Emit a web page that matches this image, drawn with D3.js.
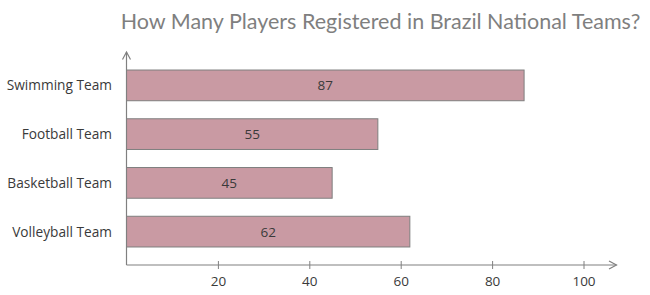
<!DOCTYPE html>
<html>
<head>
<meta charset="utf-8">
<script src="https://cdn.jsdelivr.net/npm/d3@7"></script>
<style>
  body { margin: 0; background: #fff; }
  svg { display: block; font-family: "Open Sans", sans-serif; }
</style>
</head>
<body>
<div id="chart"></div>
<script>
// data
const teams = ["Swimming Team", "Football Team", "Basketball Team", "Volleyball Team"];
const players = [87, 55, 45, 62];
const tickValues = [20, 40, 60, 80, 100];
const title = "How Many Players Registered in Brazil National Teams?";

const width = 650, height = 295;
const axisColor = "#808080";
const labelFont = "'Open Sans', sans-serif";

const svg = d3.select("#chart").append("svg")
  .attr("width", width)
  .attr("height", height);

const x = d3.scaleLinear().domain([0, 100]).range([126.5, 583.5]);
const y = d3.scaleBand().domain(teams).range([61, 256])
  .paddingInner(0.37).paddingOuter(0.185);

const axisY = 265;

// title
svg.append("text")
  .attr("x", 380.5).attr("y", 29)
  .attr("text-anchor", "middle")
  .attr("font-family", "Lato, sans-serif")
  .attr("font-size", 21.5)
  .attr("fill", "#7f7f7f")
  .text(title);

// bars
svg.append("g").selectAll("rect")
  .data(teams)
  .join("rect")
  .attr("x", x(0))
  .attr("y", d => y(d))
  .attr("width", (d, i) => x(players[i]) - x(0))
  .attr("height", y.bandwidth())
  .attr("fill", "#c99aa3")
  .attr("stroke", "#7f7f7f")
  .attr("stroke-width", 1);

// value labels
svg.append("g").selectAll("text")
  .data(teams)
  .join("text")
  .attr("x", (d, i) => (x(0) + x(players[i])) / 2)
  .attr("y", d => y(d) + y.bandwidth() / 2 + 5)
  .attr("text-anchor", "middle")
  .attr("font-size", 13.5)
  .attr("fill", "#3a3a3a")
  .text((d, i) => players[i]);

// category labels
svg.append("g").selectAll("text")
  .data(teams)
  .join("text")
  .attr("x", 112)
  .attr("y", d => y(d) + y.bandwidth() / 2 + 5)
  .attr("text-anchor", "end")
  .attr("font-size", 13.7)
  .attr("fill", "#3a3a3a")
  .text(d => d);

// x axis
const xAxis = d3.axisBottom(x).tickValues(tickValues).tickSize(4).tickPadding(7);
const gx = svg.append("g")
  .attr("transform", `translate(0,${axisY})`)
  .call(xAxis);
gx.select(".domain").remove();
gx.selectAll(".tick line").attr("y1", -4).attr("stroke", axisColor);
gx.selectAll(".tick text")
  .attr("font-family", labelFont)
  .attr("font-size", 13.5)
  .attr("fill", "#3a3a3a");

// axis lines with open arrowheads
const axes = svg.append("g")
  .attr("fill", "none")
  .attr("stroke", axisColor)
  .attr("stroke-width", 1.2);

axes.append("path").attr("d", `M${x(0)},${axisY}H616.5`);
axes.append("path").attr("d", "M609,261L616.5,265L609,269");
axes.append("path").attr("d", `M${x(0)},${axisY}V52`);
axes.append("path").attr("d", `M${x(0) - 4},59.5L${x(0)},52L${x(0) + 4},59.5`);
</script>
</body>
</html>
